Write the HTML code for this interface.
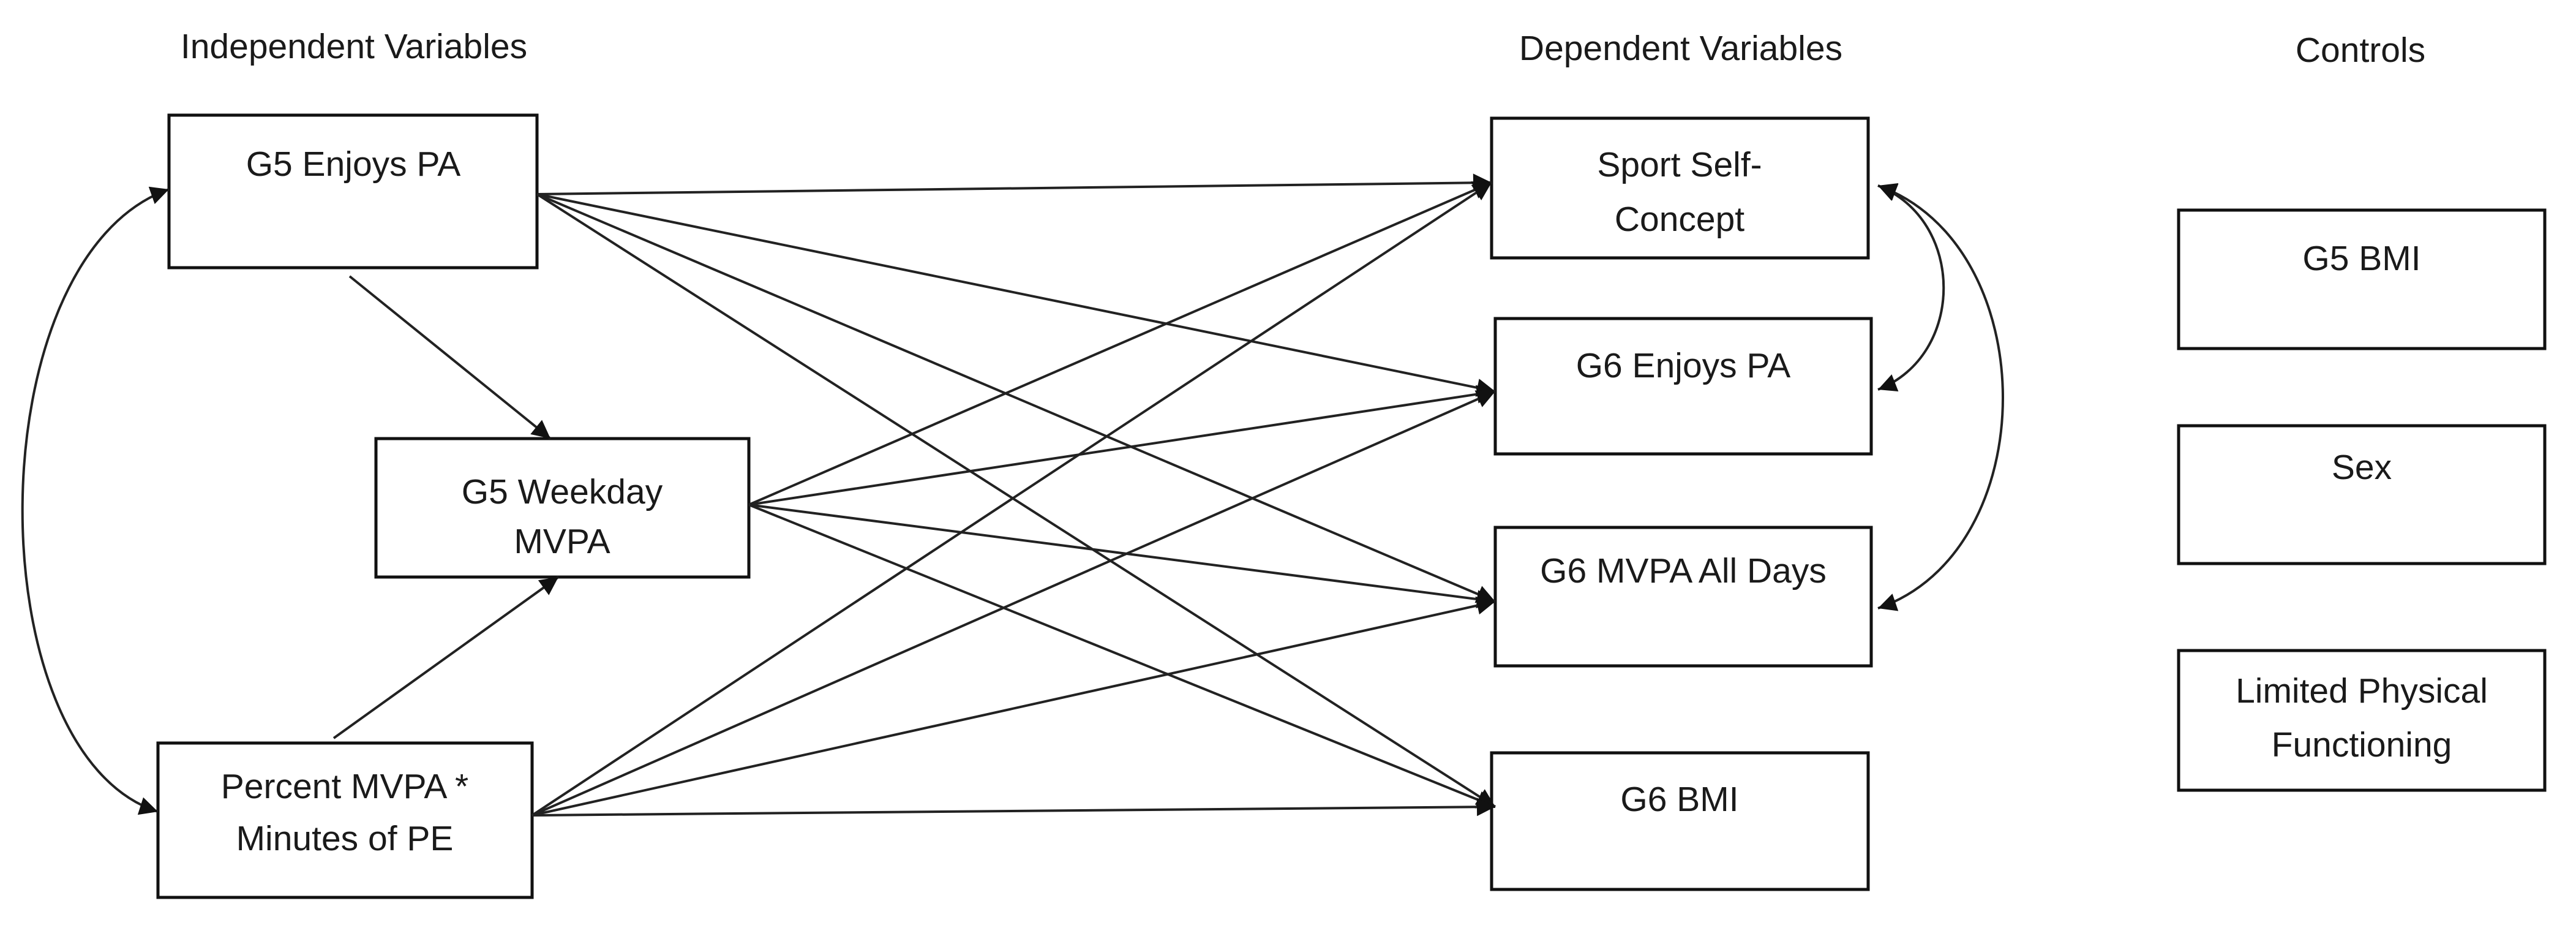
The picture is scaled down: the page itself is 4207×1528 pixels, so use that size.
<!DOCTYPE html>
<html><head><meta charset="utf-8"><style>
html,body{margin:0;padding:0;background:#fff;}
svg{display:block;}
text{font-family:"Liberation Sans",sans-serif;font-size:57px;fill:#1a1a1a;text-anchor:middle;}
</style></head><body>
<svg width="4207" height="1528" viewBox="0 0 4207 1528" xmlns="http://www.w3.org/2000/svg">
<defs>
<marker id="a" viewBox="0 0 10 10" refX="10" refY="5" markerWidth="38" markerHeight="30" markerUnits="userSpaceOnUse" orient="auto-start-reverse">
<path d="M0,0 L10,5 L0,10 z" fill="#111"/>
</marker>
</defs>
<rect width="4207" height="1528" fill="#fff"/>
<text x="578" y="95">Independent Variables</text>
<text x="2745" y="98">Dependent Variables</text>
<text x="3855" y="101">Controls</text>

<g fill="none" stroke="#111" stroke-width="5">
<rect x="276" y="188" width="601" height="249"/>
<rect x="614" y="716" width="609" height="226"/>
<rect x="258" y="1213" width="611" height="252"/>
<rect x="2436" y="193" width="615" height="228"/>
<rect x="2442" y="520" width="614" height="221"/>
<rect x="2442" y="861" width="614" height="226"/>
<rect x="2436" y="1229" width="615" height="223"/>
<rect x="3558" y="343" width="598" height="226"/>
<rect x="3558" y="695" width="598" height="225"/>
<rect x="3558" y="1062" width="598" height="228"/>
</g>

<g fill="none" stroke="#222" stroke-width="4" marker-end="url(#a)">
<line x1="877" y1="317" x2="2436" y2="298"/>
<line x1="877" y1="317" x2="2442" y2="639"/>
<line x1="877" y1="317" x2="2442" y2="982"/>
<line x1="877" y1="317" x2="2442" y2="1317"/>
<line x1="1223" y1="824" x2="2436" y2="298"/>
<line x1="1223" y1="824" x2="2442" y2="639"/>
<line x1="1223" y1="824" x2="2442" y2="982"/>
<line x1="1223" y1="824" x2="2442" y2="1317"/>
<line x1="869" y1="1331" x2="2436" y2="298"/>
<line x1="869" y1="1331" x2="2442" y2="639"/>
<line x1="869" y1="1331" x2="2442" y2="982"/>
<line x1="869" y1="1331" x2="2442" y2="1317"/>
<line x1="571" y1="451" x2="899" y2="716"/>
<line x1="545" y1="1205" x2="912" y2="942"/>
</g>
<g fill="none" stroke="#222" stroke-width="4" marker-start="url(#a)" marker-end="url(#a)">
<path d="M276 309 C -40 420, -40 1230, 258 1325"/>
<path d="M3067 303 C 3210 360, 3210 580, 3067 636"/>
<path d="M3067 303 C 3339 400, 3339 900, 3067 993"/>
</g>

<text x="577" y="287">G5 Enjoys PA</text>
<text x="918" y="822">G5 Weekday</text>
<text x="918" y="903">MVPA</text>
<text x="563" y="1303">Percent MVPA *</text>
<text x="563" y="1388">Minutes of PE</text>
<text x="2743" y="288">Sport Self-</text>
<text x="2743" y="377">Concept</text>
<text x="2749" y="616">G6 Enjoys PA</text>
<text x="2749" y="951">G6 MVPA All Days</text>
<text x="2743" y="1324">G6 BMI</text>
<text x="3857" y="441">G5 BMI</text>
<text x="3857" y="782">Sex</text>
<text x="3857" y="1147">Limited Physical</text>
<text x="3857" y="1235">Functioning</text>
</svg>
</body></html>
